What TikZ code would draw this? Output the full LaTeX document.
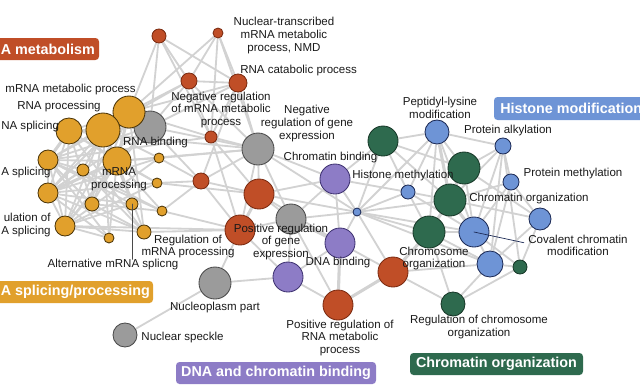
\documentclass[tikz,border=0pt]{standalone}
\usepackage{fontspec}
\setmainfont{Liberation Sans}
\usetikzlibrary{backgrounds}
\definecolor{rnac}{HTML}{C04E27}
\definecolor{rnal}{HTML}{7A2A10}
\definecolor{splc}{HTML}{E1A02C}
\definecolor{splcl}{HTML}{4A3408}
\definecolor{othc}{HTML}{9B9B9B}
\definecolor{othl}{HTML}{4A4A4A}
\definecolor{dnac}{HTML}{8D7CC6}
\definecolor{dnal}{HTML}{3E3270}
\definecolor{hisc}{HTML}{6E94D6}
\definecolor{hisl}{HTML}{1C2A55}
\definecolor{chrc}{HTML}{2E6A4E}
\definecolor{chrl}{HTML}{173828}
\definecolor{edgec}{HTML}{D2D2D2}
\begin{document}
\begin{tikzpicture}[x=0.025cm,y=-0.025cm,line join=round,line cap=round,
	go/.style={circle,inner sep=0,minimum size=#1*0.05cm,line width=0.6pt},
	rnam/.style={go=#1,fill=rnac,draw=rnal},
	splice/.style={go=#1,fill=splc,draw=splcl},
	othr/.style={go=#1,fill=othc,draw=othl},
	dnab/.style={go=#1,fill=dnac,draw=dnal},
	hist/.style={go=#1,fill=hisc,draw=hisl},
	chro/.style={go=#1,fill=chrc,draw=chrl},
	lbl/.style={inner sep=0,font=\fontsize{8.2}{9}\selectfont,align=center,text=black!90},
	tag/.style={inner sep=0,text=white,font=\fontsize{10.2}{11}\selectfont\bfseries},
	box/.style={rounded corners=2.5pt},
	link/.style={draw=edgec,line width=1.3pt},
	fat/.style={draw=edgec,line width=2.2pt}]
	\useasboundingbox (0,0) rectangle (640,384);
	\clip (0,0) rectangle (640,384);
	\node[rnam=7] (r1) at (159,36) {};
	\node[rnam=5] (r2) at (218,33) {};
	\node[rnam=8] (r3) at (189,81) {};
	\node[rnam=9] (r4) at (238,83) {};
	\node[rnam=6] (r5) at (211,137) {};
	\node[rnam=8] (r6) at (201,181) {};
	\node[rnam=15] (r7) at (259,194) {};
	\node[rnam=15] (r8) at (240,230) {};
	\node[rnam=15] (r9) at (338,305) {};
	\node[rnam=15] (r10) at (393,272) {};
	\node[othr=16] (g1) at (150,127) {};
	\node[othr=16] (g2) at (258,149) {};
	\node[othr=15] (g3) at (291,219) {};
	\node[othr=16] (g4) at (215,283) {};
	\node[othr=12] (g5) at (125,335) {};
	\node[splice=16] (y1) at (129,112) {};
	\node[splice=17] (y2) at (103,130) {};
	\node[splice=13] (y3) at (69,131) {};
	\node[splice=14] (y4) at (117,161) {};
	\node[splice=10] (y5) at (48,160) {};
	\node[splice=6] (y6) at (83,170) {};
	\node[splice=5] (y7) at (159,158) {};
	\node[splice=5] (y8) at (157,183) {};
	\node[splice=10] (y9) at (48,193) {};
	\node[splice=7] (y10) at (92,204) {};
	\node[splice=6] (y11) at (132,204) {};
	\node[splice=5] (y12) at (162,211) {};
	\node[splice=10] (y13) at (65,226) {};
	\node[splice=7] (y14) at (144,232) {};
	\node[splice=5] (y15) at (109,238) {};
	\node[dnab=15] (p1) at (335,179) {};
	\node[dnab=15] (p2) at (340,243) {};
	\node[dnab=15] (p3) at (288,277) {};
	\node[hist=4] (b0) at (357,212) {};
	\node[hist=12] (b1) at (437,132) {};
	\node[hist=8] (b2) at (503,146) {};
	\node[hist=7] (b3) at (408,192) {};
	\node[hist=8] (b4) at (511,182) {};
	\node[hist=11] (b5) at (540,219) {};
	\node[hist=15] (b6) at (474,232) {};
	\node[hist=13] (b7) at (490,264) {};
	\node[chro=15] (c1) at (383,141) {};
	\node[chro=16] (c2) at (464,168) {};
	\node[chro=16] (c3) at (450,200) {};
	\node[chro=16] (c4) at (429,232) {};
	\node[chro=7] (c5) at (520,267) {};
	\node[chro=12] (c6) at (453,304) {};
	\node[lbl] (tNmd) at (284,35.5) {Nuclear-transcribed\\mRNA metabolic\\process, NMD};
	\node[lbl,anchor=west] (tCat) at (240,71) {RNA catabolic process};
	\node[lbl] (tMmp) at (70.5,90) {mRNA metabolic process};
	\node[lbl] (tRproc) at (59,107) {RNA processing};
	\node[lbl,anchor=west] (tRspl) at (1,127) {NA splicing};
	\node[lbl] (tRbind) at (155.5,143) {RNA binding};
	\node[lbl] (tNegm) at (221,110) {Negative regulation\\of mRNA metabolic\\process};
	\node[lbl] (tNegg) at (307,123.5) {Negative\\regulation of gene\\expression};
	\node[lbl] (tChb) at (330.5,158) {Chromatin binding};
	\node[lbl] (tHm) at (403,176) {Histone methylation};
	\node[lbl] (tPep) at (440,108) {Peptidyl-lysine\\modification};
	\node[lbl] (tAlk) at (508,131) {Protein alkylation};
	\node[lbl] (tPm) at (573,174) {Protein methylation};
	\node[lbl] (tCo) at (529,199) {Chromatin organization};
	\node[lbl] (tCov) at (578,245.5) {Covalent chromatin\\modification};
	\node[lbl] (tChr) at (434,258.5) {Chromosome\\organization};
	\node[lbl] (tRco) at (479,327) {Regulation of chromosome\\organization};
	\node[lbl] (tPrna) at (340,338) {Positive regulation of\\RNA metabolic\\process};
	\node[lbl] (tPge) at (281,242) {Positive regulation\\of gene\\expression};
	\node[lbl] (tDna) at (338,263) {DNA binding};
	\node[lbl] (tRmp) at (188,246.5) {Regulation of\\mRNA processing};
	\node[lbl] (tAlt) at (113,265) {Alternative mRNA splicng};
	\node[lbl] (tNuc) at (215,308) {Nucleoplasm part};
	\node[lbl] (tSpk) at (182.5,338) {Nuclear speckle};
	\node[lbl] (tMp) at (119,179.5) {mRNA\\processing};
	\node[lbl,anchor=west] (tAs) at (1,173) {A splicing};
	\node[lbl,anchor=west,align=right] (tRas) at (1,225) {ulation of\\A splicing};
	\fill[box,rnac] (-6,38) rectangle (99,60);
	\fill[box,splc] (-6,281) rectangle (153,303);
	\fill[box,dnac] (176,362) rectangle (376,384);
	\fill[box,chrc] (410,353) rectangle (583,375);
	\fill[box,hisc] (494,97) rectangle (646,120);
	\node[tag,anchor=west] (kMet) at (0.5,49) {A metabolism};
	\node[tag,anchor=west] (kSpl) at (0.5,292) {A splicing/processing};
	\node[tag] (kDna) at (276,373) {DNA and chromatin binding};
	\node[tag] (kChr) at (496.5,364) {Chromatin organization};
	\node[tag,anchor=west] (kHis) at (500,108.5) {Histone modification};
	\draw[othl,line width=0.5pt] (y11.center) -- (y11 |- tAlt.north);
	\draw[hisl,line width=0.5pt] (b6.center) -- ([xshift=-3pt,yshift=2pt]tCov.west);
	\begin{pgfonlayer}{background}
	\foreach \a/\b in {y1/y2,y1/y3,y1/y4,y1/y5,y1/y9,y1/y13,y1/y10,y1/y14,y1/g1,y2/y3,y2/y4,y2/y5,y2/y9,y2/y13,y2/y6,y2/y10,y2/y11,y3/y4,y3/y5,y3/y9,y3/y13,y3/y10,y4/y5,y4/y9,y4/y13,y4/y10,y4/y11,y4/y14,y4/y15,y4/y12,y5/y9,y5/y13,y5/y10,y5/y15,y9/y13,y9/y15,y9/y14,y13/y15,y13/y14,y13/y11,y10/y14,y10/y12,y7/y2,y7/y13,y8/y3,y8/y9,y12/y5,y14/y3,y15/y2,g1/y4,g1/y5,g1/y13,g1/y9,g1/y3,y6/y14,y6/y12,y7/y9,y11/y5,y8/y13,y7/y4,y8/y4,y11/y9,y6/y9,y6/y5,
		y1/r1,y1/r3,y1/r4,y2/r3,g1/r3,g1/r4,g1/g2,y7/g2,y8/r6,y12/r8,y14/r8,y8/r7,y1/r5,y12/r6,y7/r6,g1/r6,y3/g2,y13/r8,y5/r5,r1/r3,r1/r4,r1/r5,r2/r3,r2/r4,r2/y1,r3/r4,r3/r5,r3/g2,r4/g2,r4/r5,r4/r6,r2/g2,r1/g1,r2/r5,
		r5/g2,r5/r7,r5/r8,r6/r7,r6/r8,r6/g2,g2/r7,g2/r8,g2/g3,g2/p1,r7/r8,r7/g3,r7/p1,r7/p2,r8/g3,r8/g4,r8/p3,g3/p1,g3/p2,g3/p3,g3/b0,g3/r9,p1/b0,p1/p2,p1/c1,p1/b3,p2/b0,p2/p3,p2/r9,p2/r10,p3/r9,p3/g4,r9/r10,r10/c4,r10/b7,r10/b0,g4/g5,b0/c3,b0/c4,b0/b3,b0/b1,b0/b6,b0/c1,b0/b7,g2/b0,r7/b0,y4/g2,
		c1/b1,c1/c3,c1/b3,c1/c2,b1/c2,b1/b2,b1/c3,b1/b3,b1/b6,b1/c4,b2/c2,b2/b4,b2/b6,b2/b7,b2/c3,b4/c3,b4/b6,b4/b5,b4/b7,c2/c3,c2/b6,c3/c4,c3/b6,c3/b5,c4/b6,c4/b7,c4/c6,b6/b7,b6/c5,b7/c5,b7/c6,c6/c5,b5/b7,b5/c5,b3/c3,b3/c4,b3/b6,c6/r10,c2/b5,b2/c5}
		\draw[link] (\a) -- (\b);
	\foreach \a/\b in {y1/y2,y2/y3,y1/y4,y2/y4,y3/y5,y4/y9,r7/r8,g3/p2,c3/c4,c3/b6,b1/c3,p2/r9,r9/r10,r10/c4}
		\draw[fat] (\a) -- (\b);
	\end{pgfonlayer}
\end{tikzpicture}
\end{document}
